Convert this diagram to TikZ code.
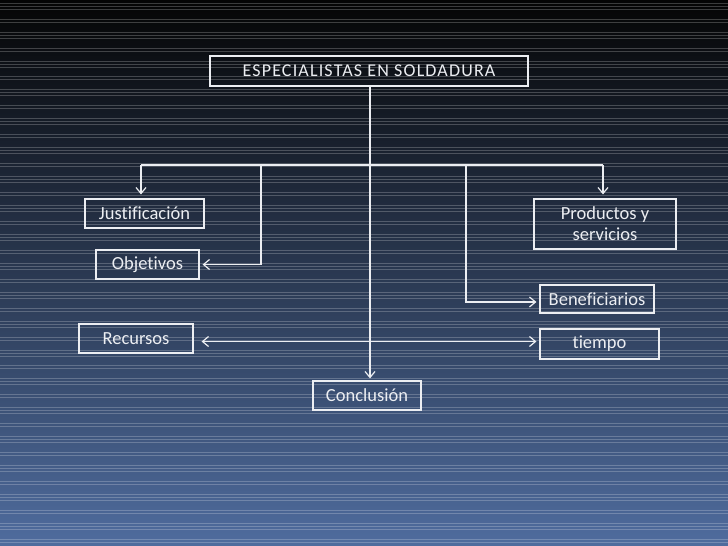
\documentclass[tikz,border=0pt]{standalone}
\usepackage{fontspec}
\setmainfont{Carlito}[Ligatures=NoCommon]
\usetikzlibrary{arrows.meta}

\definecolor{bgtop}{HTML}{050505}
\definecolor{bgmid}{HTML}{26324A}
\definecolor{bgbot}{HTML}{4F6C9E}
\definecolor{inkwhite}{HTML}{ECEEF2}

\tikzset{
  box/.style={draw=inkwhite, line width=1.2pt, text=inkwhite, inner sep=0pt,
    align=center, font=\fontsize{18.5}{21}\selectfont},
  link/.style={draw=inkwhite, line width=1.1pt},
  barb/.tip={Straight Barb[length=6pt,width=10pt,line width=1.2pt]},
  tip/.style={-barb},
}

\begin{document}
\begin{tikzpicture}[x=1pt,y=-1pt]

		% Background with stripes
		\useasboundingbox (0,0) rectangle (728,546);
		\shade[top color=bgtop, middle color=bgmid, bottom color=bgbot] (0,0) rectangle (728,546);
		\foreach \k in {-1,...,18}
		  \foreach \d in {0,3,13,16,19}
		    \draw[white, opacity=0.22, line width=0.8pt] (0,19+28.9*\k+\d) -- (728,19+28.9*\k+\d);

		% Boxes
		\node[box, minimum width=318pt, minimum height=30pt,
		  font=\addfontfeatures{LetterSpace=6.5}\fontsize{18}{21}\selectfont] (title) at (369,71) {ESPECIALISTAS EN SOLDADURA};
		\node[box, minimum width=119pt, minimum height=29pt] (just) at (144.5,213.5) {Justificación};
		\node[box, minimum width=103pt, minimum height=29pt] (obj) at (147.5,264.5) {Objetivos};
		\node[box, minimum width=142pt, minimum height=50pt] (prod) at (605,224) {Productos y\\servicios};
		\node[box, minimum width=114pt, minimum height=28pt] (benef) at (597,299) {Beneficiarios};
		\node[box, minimum width=114pt, minimum height=29pt] (recur) at (136,338.5) {Recursos};
		\node[box, minimum width=119pt, minimum height=30pt] (tiempo) at (599.5,344) {tiempo};
		\node[box, minimum width=108pt, minimum height=29pt] (concl) at (367,395.5) {Conclusión};

		% Branch bar
		\coordinate (barL) at (141,165);
		\coordinate (barR) at (603,165);
		\coordinate (objTurn) at (261,165);
		\coordinate (benTurn) at (466,165);
		\draw[link] (barL) -- (barR);

		% Down from the title to the conclusion
		\draw[link, tip] (370,86) -- ([yshift=2pt]370,0 |- concl.north);

		% Side branches
		\draw[link, tip] (barL) -- ([yshift=4pt]barL |- just.north);
		\draw[link, tip] (barR) -- ([yshift=4pt]barR |- prod.north);
		\draw[link, tip] (objTurn) |- ([xshift=3pt]obj.east);
		\draw[link, tip] (benTurn) |- ([xshift=-3pt,yshift=-3pt]benef.west);

		% Recursos <-> tiempo
		\draw[link, barb-barb]
		  ([xshift=8pt,yshift=-3pt]recur.east) -- ([xshift=-3pt,yshift=-3pt]recur.east -| tiempo.west);

	\end{tikzpicture}
\end{document}
